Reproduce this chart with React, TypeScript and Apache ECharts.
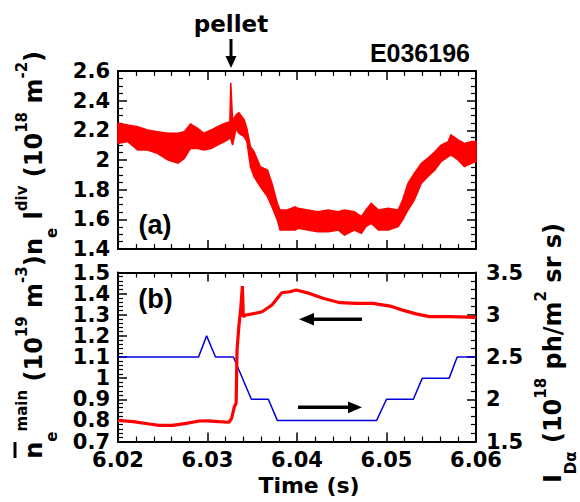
import { useEffect, useRef } from 'react';
import * as echarts from 'echarts';

// ---- Panel (a): line-integrated divertor density, envelope of the noisy trace ----
const T_A = [6.0200, 6.0211, 6.0222, 6.0233, 6.0244, 6.0256, 6.0267, 6.0274, 6.0281, 6.0289, 6.0296, 6.0304, 6.0311, 6.0319, 6.0325, 6.0326, 6.0328, 6.0332, 6.0335, 6.0341, 6.0344, 6.0348, 6.0352, 6.0359, 6.0367, 6.0372, 6.0378, 6.0381, 6.0389, 6.0398, 6.0401, 6.0412, 6.0423, 6.0435, 6.0446, 6.0453, 6.0464, 6.0472, 6.0477, 6.0483, 6.0491, 6.0502, 6.0513, 6.0518, 6.0524, 6.0531, 6.0539, 6.0546, 6.0554, 6.0561, 6.0569, 6.0572, 6.0580, 6.0587, 6.0595, 6.0600];
const UPPER_A = [2.247, 2.236, 2.225, 2.202, 2.191, 2.180, 2.180, 2.191, 2.243, 2.213, 2.180, 2.202, 2.225, 2.247, 2.258, 2.521, 2.270, 2.303, 2.319, 2.270, 2.213, 2.090, 2.056, 1.955, 1.933, 1.843, 1.708, 1.663, 1.663, 1.685, 1.674, 1.663, 1.652, 1.663, 1.652, 1.663, 1.652, 1.618, 1.663, 1.708, 1.663, 1.674, 1.663, 1.730, 1.843, 1.910, 1.978, 2.011, 2.056, 2.101, 2.124, 2.169, 2.135, 2.112, 2.124, 2.124];
const LOWER_A = [2.112, 2.124, 2.067, 2.067, 2.045, 2.000, 1.978, 2.011, 2.078, 2.078, 2.067, 2.078, 2.101, 2.124, 2.146, 2.146, 2.101, 2.213, 2.180, 2.157, 2.124, 1.955, 1.888, 1.820, 1.753, 1.685, 1.596, 1.528, 1.528, 1.528, 1.539, 1.528, 1.517, 1.517, 1.528, 1.494, 1.528, 1.506, 1.551, 1.573, 1.528, 1.528, 1.551, 1.596, 1.663, 1.730, 1.843, 1.888, 1.933, 1.989, 2.022, 2.034, 2.000, 1.955, 1.978, 1.989];

// ---- Panel (b): main-plasma density (left axis) ----
const T_NE = [6.0200, 6.0217, 6.0235, 6.0246, 6.0261, 6.0276, 6.0291, 6.0300, 6.0313, 6.0324, 6.0327, 6.0330, 6.0332, 6.0333, 6.0335, 6.0337, 6.0339, 6.0340, 6.0343, 6.0350, 6.0361, 6.0372, 6.0383, 6.0392, 6.0399, 6.0414, 6.0429, 6.0448, 6.0466, 6.0485, 6.0504, 6.0518, 6.0533, 6.0548, 6.0571, 6.0600];
const NE_MAIN = [0.800, 0.794, 0.783, 0.776, 0.776, 0.786, 0.797, 0.798, 0.794, 0.791, 0.810, 0.865, 0.881, 1.133, 1.243, 1.322, 1.436, 1.291, 1.299, 1.304, 1.314, 1.346, 1.404, 1.409, 1.417, 1.401, 1.378, 1.357, 1.354, 1.354, 1.341, 1.322, 1.304, 1.291, 1.291, 1.288];

// ---- Panel (b): D-alpha intensity (right axis) ----
const T_DA = [6.0200, 6.0290, 6.0299, 6.0309, 6.0329, 6.0349, 6.0368, 6.0378, 6.0489, 6.0500, 6.0530, 6.0540, 6.0570, 6.0579, 6.0600];
const I_DA = [2.5, 2.5, 2.75, 2.5, 2.5, 2.0, 2.0, 1.75, 1.75, 2.0, 2.0, 2.25, 2.25, 2.5, 2.5];

const TICK_FONT = 'DejaVu Sans';
const ARIAL = 'Liberation Sans';

const fmt = (v: number) => String(Number(v.toFixed(2)));

function xAxis(grid: number, position: string, labels: boolean) {
  return {
    type: 'value', gridIndex: grid, position, min: 6.02, max: 6.06, interval: 0.01,
    axisLine: { show: true, onZero: false, lineStyle: { color: '#000', width: 2 } },
    axisTick: { show: true, inside: true, length: 9, lineStyle: { color: '#000', width: 1.5 } },
    minorTick: { show: true, splitNumber: 5, length: 5, lineStyle: { color: '#000', width: 1.2 } },
    splitLine: { show: false }, minorSplitLine: { show: false },
    axisLabel: { show: labels, margin: 9, color: '#000', fontFamily: TICK_FONT, fontWeight: 'bold', fontSize: 21, lineHeight: 19, formatter: (v: number) => v.toFixed(2) },
  };
}

function yAxis(grid: number, position: string, min: number, max: number, interval: number, minor: number, labels: boolean, margin: number) {
  return {
    type: 'value', gridIndex: grid, position, min, max, interval,
    axisLine: { show: true, onZero: false, lineStyle: { color: '#000', width: 2 } },
    axisTick: { show: true, inside: true, length: 9, lineStyle: { color: '#000', width: 1.5 } },
    minorTick: { show: true, splitNumber: minor, length: 5, lineStyle: { color: '#000', width: 1.2 } },
    splitLine: { show: false }, minorSplitLine: { show: false },
    axisLabel: { show: labels, margin, color: '#000', fontFamily: TICK_FONT, fontWeight: 'bold', fontSize: 21, lineHeight: 19, formatter: fmt },
  };
}

const RICH = {
  m: { fontFamily: TICK_FONT, fontWeight: 'bold', fontSize: 24, lineHeight: 48, fill: '#000' },
  sup: { fontFamily: TICK_FONT, fontWeight: 'bold', fontSize: 15, lineHeight: 48, height: 24, verticalAlign: 'top', fill: '#000' },
  sub: { fontFamily: TICK_FONT, fontWeight: 'bold', fontSize: 15, lineHeight: 48, height: 12, verticalAlign: 'bottom', fill: '#000' },
};

function title(text: string, x: number, y: number) {
  return {
    type: 'text', x, y, rotation: Math.PI / 2, silent: true,
    style: { text, rich: RICH, align: 'center', verticalAlign: 'middle', textAlign: 'center', textVerticalAlign: 'middle', fill: '#000', font: `bold 24px "${TICK_FONT}"` },
  };
}

function label(text: string, x: number, y: number, font: string, align = 'center') {
  return {
    type: 'text', x, y, silent: true,
    style: { text, font, fill: '#000', align, verticalAlign: 'middle', textAlign: align, textVerticalAlign: 'middle' },
  };
}

export default function App() {
  const ref = useRef<HTMLDivElement>(null);
  useEffect(() => {
    document.body.style.margin = '0';
    const chart = echarts.init(ref.current!, null, { renderer: 'svg' });
    const black = { fill: '#000' };
    chart.setOption({
      animation: false,
      backgroundColor: '#fff',
      grid: [
        { left: 118, right: 104, top: 71, height: 178, outerBoundsMode: 'none' },
        { left: 118, right: 104, top: 272.5, height: 169, outerBoundsMode: 'none' },
      ],
      xAxis: [
        xAxis(0, 'bottom', false),
        xAxis(0, 'top', false),
        xAxis(1, 'bottom', true),
        xAxis(1, 'top', false),
      ],
      yAxis: [
        yAxis(0, 'left', 1.4, 2.6, 0.2, 4, true, 8),
        yAxis(0, 'right', 1.4, 2.6, 0.2, 4, false, 8),
        yAxis(1, 'left', 0.7, 1.5, 0.1, 5, true, 8),
        yAxis(1, 'right', 1.5, 3.5, 0.5, 5, true, 10),
      ],
      series: [
        {
          type: 'custom', xAxisIndex: 0, yAxisIndex: 0, silent: true, z: 3,
          data: [[6.04, 2.0]],
          renderItem: (_p: any, api: any) => {
            const pts: number[][] = [];
            for (let i = 0; i < T_A.length; i++) pts.push(api.coord([T_A[i], UPPER_A[i]]));
            for (let i = T_A.length - 1; i >= 0; i--) pts.push(api.coord([T_A[i], LOWER_A[i]]));
            return { type: 'polygon', shape: { points: pts }, style: { fill: '#ff0000', stroke: '#ff0000', lineWidth: 1.5 } };
          },
        },
        {
          type: 'line', xAxisIndex: 2, yAxisIndex: 3, symbol: 'none', silent: true, z: 2,
          data: T_DA.map((t, i) => [t, I_DA[i]]),
          lineStyle: { color: '#0000dd', width: 1.5 },
        },
        {
          type: 'line', xAxisIndex: 2, yAxisIndex: 2, symbol: 'none', silent: true, z: 3,
          data: T_NE.map((t, i) => [t, NE_MAIN[i]]),
          lineStyle: { color: '#ff0000', width: 3.2 },
        },
      ],
      graphic: [
        label('pellet', 231, 24, `bold 23px "${TICK_FONT}"`),
        { type: 'line', silent: true, shape: { x1: 231, y1: 39, x2: 231, y2: 58 }, style: { stroke: '#000', lineWidth: 3 } },
        { type: 'polygon', silent: true, shape: { points: [[225.5, 56], [236.5, 56], [231, 68]] }, style: black },
        label('E036196', 470, 52.5, `bold 25px "${ARIAL}"`, 'right'),
        label('(a)', 155, 225, `bold 27px "${ARIAL}"`),
        label('(b)', 155.5, 299, `bold 27px "${ARIAL}"`),
        { type: 'line', silent: true, shape: { x1: 312, y1: 319.3, x2: 362, y2: 319.3 }, style: { stroke: '#000', lineWidth: 3.5 } },
        { type: 'polygon', silent: true, shape: { points: [[299, 319.3], [314, 313], [314, 325.6]] }, style: black },
        { type: 'line', silent: true, shape: { x1: 298, y1: 407.3, x2: 350, y2: 407.3 }, style: { stroke: '#000', lineWidth: 3.5 } },
        { type: 'polygon', silent: true, shape: { points: [[362, 407.3], [348, 401.5], [348, 413.3]] }, style: black },
        label('Time (s)', 309, 485, `bold 22px "${TICK_FONT}"`),
        title('{m|n}{sub|e}{m| l}{sup|div}{m| (10}{sup|18}{m| m}{sup|-2}{m|)}', 34, 153),
        title('{m|n}{sub|e}{sup|main}{m| (10}{sup|19}{m| m}{sup|-3}{m|)}', 34, 357),
        { type: 'line', silent: true, shape: { x1: 15, y1: 442, x2: 15, y2: 458 }, style: { stroke: '#000', lineWidth: 3 } },
        title('{m|I}{sub|Dα}{m| (10}{sup|18}{m| ph/m}{sup|2}{m| sr s)}', 553, 353),
      ],
    });
    return () => chart.dispose();
  }, []);
  return <div ref={ref} style={{ width: 580, height: 502 }} />;
}
